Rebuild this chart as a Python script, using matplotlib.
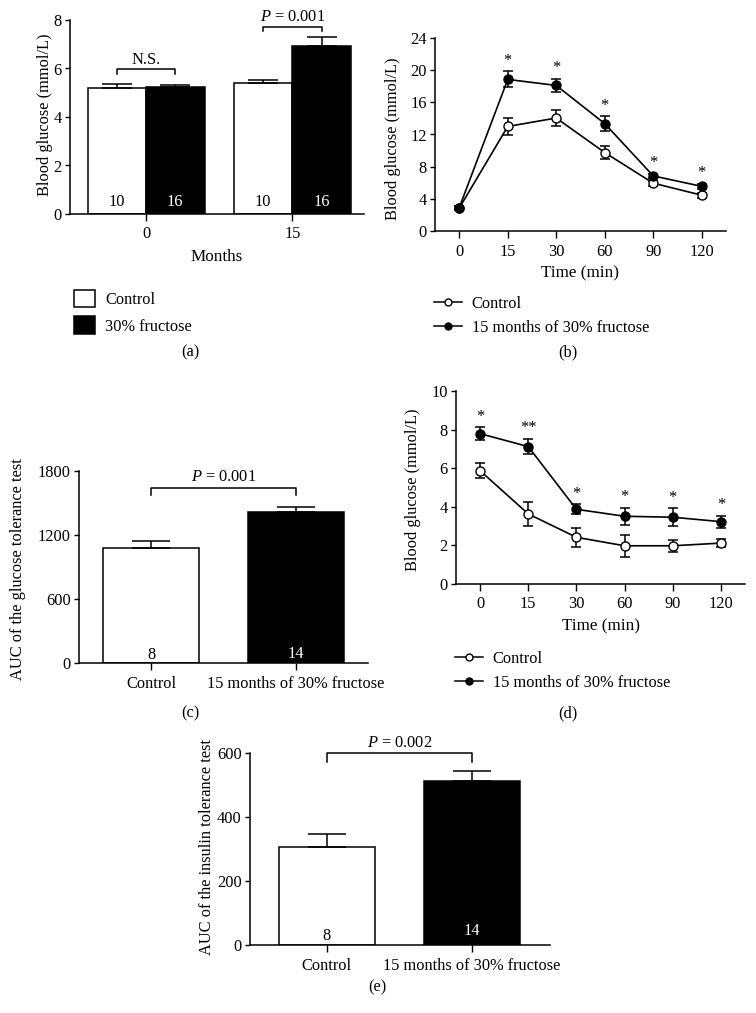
import numpy as np
import matplotlib
matplotlib.use('Agg')
import matplotlib.pyplot as plt
from matplotlib.patches import Patch
from matplotlib.lines import Line2D

FS = 11.8
plt.rcParams['font.family'] = ['Liberation Serif', 'DejaVu Serif']
plt.rcParams['mathtext.fontset'] = 'custom'
plt.rcParams['mathtext.rm'] = 'Liberation Serif'
plt.rcParams['mathtext.it'] = 'Liberation Serif:italic'
plt.rcParams['font.size'] = FS

# (a) fasting glucose
months = ['0', '15']
fast_ctrl = [5.18, 5.39]
fast_ctrl_err = [0.18, 0.14]
fast_fru = [5.23, 6.94]
fast_fru_err = [0.08, 0.34]
n_ctrl_a = ['10', '10']
n_fru_a = ['16', '16']

# (b) glucose tolerance test
times = ['0', '15', '30', '60', '90', '120']
gtt_ctrl = [2.85, 13.0, 14.05, 9.75, 5.95, 4.45]
gtt_ctrl_err = [0.2, 1.05, 1.05, 0.8, 0.3, 0.3]
gtt_fru = [2.9, 18.85, 18.1, 13.35, 6.85, 5.55]
gtt_fru_err = [0.2, 1.0, 0.8, 0.9, 0.3, 0.3]
gtt_stars = ['', '*', '*', '*', '*', '*']

# (c) AUC of GTT
groups = ['Control', '15 months of 30% fructose']
gtt_auc = [1078, 1415]
gtt_auc_err = [62, 50]
n_auc = ['8', '14']

# (d) insulin tolerance test
itt_ctrl = [5.87, 3.63, 2.42, 1.98, 1.98, 2.12]
itt_ctrl_err = [0.38, 0.6, 0.5, 0.56, 0.3, 0.22]
itt_fru = [7.79, 7.12, 3.87, 3.51, 3.46, 3.23]
itt_fru_err = [0.33, 0.38, 0.26, 0.45, 0.46, 0.31]
itt_stars = ['*', '**', '*', '*', '*', '*']

# (e) AUC of ITT
itt_auc = [305, 511]
itt_auc_err = [43, 34]

W, H = 756, 1013
fig = plt.figure(figsize=(W/100, H/100), dpi=100)


def add_ax(l, t, r, b):
    return fig.add_axes([l/W, 1-b/H, (r-l)/W, (b-t)/H])


def style(ax):
    ax.spines['top'].set_visible(False)
    ax.spines['right'].set_visible(False)
    for s in ['left', 'bottom']:
        ax.spines[s].set_linewidth(1.1)
    ax.tick_params(direction='out', length=3.5, width=1, pad=2.5, labelsize=FS)
    ax.tick_params(axis='x', length=5, pad=4)


def bracket(ax, x0, x1, ytop, ylow, text, ty):
    ax.plot([x0, x0, x1, x1], [ylow, ytop, ytop, ylow], color='k', lw=1.1, clip_on=False)
    ax.text((x0+x1)/2, ty, text, ha='center', va='center', clip_on=False, fontsize=FS)


def labels(ax, xl, yl, xc, yc, xlc=None):
    ax.set_ylabel(yl, fontsize=FS)
    ax.yaxis.set_label_coords(xc, yc)
    ax.yaxis.label.set_va('center')
    if xl:
        ax.set_xlabel(xl, fontsize=FS + 0.5)
        ax.xaxis.set_label_coords(0.5, xlc)
        ax.xaxis.label.set_va('center')


# ---- (a)
ax = add_ax(70, 20, 364, 214)
style(ax)
g = np.arange(len(months))
ax.bar(g-0.2, fast_ctrl, 0.4, color='white', edgecolor='k', lw=1.1)
ax.bar(g+0.2, fast_fru, 0.4, color='black', edgecolor='k', lw=1.1)
ax.errorbar(g-0.2, fast_ctrl, yerr=[np.zeros(2), fast_ctrl_err], fmt='none', ecolor='k',
            capsize=11, elinewidth=1.1, capthick=1.1)
ax.errorbar(g+0.2, fast_fru, yerr=[np.zeros(2), fast_fru_err], fmt='none', ecolor='k',
            capsize=11, elinewidth=1.1, capthick=1.1)
for i in range(len(months)):
    ax.annotate(n_ctrl_a[i], (g[i]-0.2, 0), xytext=(0, 3), textcoords='offset points',
                ha='center', va='bottom', color='k')
    ax.annotate(n_fru_a[i], (g[i]+0.2, 0), xytext=(0, 3), textcoords='offset points',
                ha='center', va='bottom', color='white')
ax.set_xlim(-0.52, 1.49)
ax.set_ylim(0, 8)
ax.set_yticks([0, 2, 4, 6, 8])
ax.set_xticks(g)
ax.set_xticklabels(months)
bracket(ax, -0.2, 0.2, 5.97, 5.78, 'N.S.', 6.35)
bracket(ax, 0.8, 1.2, 7.72, 7.56, '$P$ = 0.001', 8.13)
labels(ax, 'Months', 'Blood glucose (mmol/L)', -0.085, 0.51, -0.222)
fig.legend(handles=[Patch(facecolor='white', edgecolor='k', lw=1.1, label='Control'),
                    Patch(facecolor='black', edgecolor='k', lw=1.1, label='30% fructose')],
           loc='upper left', bbox_to_anchor=(74/W, 1-290/H), frameon=False, borderpad=0,
           borderaxespad=0, handlelength=1.3, handleheight=1.25, handletextpad=0.6,
           labelspacing=0.5, fontsize=FS)

# ---- (b)
ax = add_ax(435, 38, 726, 231)
style(ax)
x = np.arange(len(times))
ax.errorbar(x, gtt_ctrl, yerr=gtt_ctrl_err, fmt='-o', color='k', mfc='white', mec='k',
            ms=6.5, lw=1.2, capsize=3.5, elinewidth=1.1, capthick=1.1)
ax.errorbar(x, gtt_fru, yerr=gtt_fru_err, fmt='-o', color='k', mfc='k', mec='k',
            ms=6.5, lw=1.2, capsize=3.5, elinewidth=1.1, capthick=1.1)
for i in range(len(times)):
    if gtt_stars[i]:
        ax.annotate(gtt_stars[i], (x[i], gtt_fru[i]+gtt_fru_err[i]), xytext=(0, 2),
                    textcoords='offset points', ha='center', va='bottom', fontsize=FS)
ax.set_xlim(-0.5, 5.5)
ax.set_ylim(0, 24)
ax.set_yticks(np.arange(0, 25, 4))
ax.set_xticks(x)
ax.set_xticklabels(times)
labels(ax, 'Time (min)', 'Blood glucose (mmol/L)', -0.144, 0.48, -0.218)
leg_lines = [Line2D([0], [0], color='k', lw=1.1, marker='o', mfc='white', mec='k', ms=5, label='Control'),
             Line2D([0], [0], color='k', lw=1.1, marker='o', mfc='k', mec='k', ms=5,
                    label='15 months of 30% fructose')]
fig.legend(handles=leg_lines, loc='upper left', bbox_to_anchor=(434/W, 1-296/H), frameon=False,
           borderpad=0, borderaxespad=0, handlelength=1.7, handletextpad=0.6,
           labelspacing=0.5, fontsize=FS)

# ---- (c)
ax = add_ax(79, 471, 368, 663)
style(ax)
xb = np.arange(len(groups))
ax.bar(xb, gtt_auc, 0.667, color=['white', 'black'], edgecolor='k', lw=1.1)
ax.errorbar(xb, gtt_auc, yerr=[np.zeros(2), gtt_auc_err], fmt='none', ecolor='k',
            capsize=14, elinewidth=1.1, capthick=1.1)
ax.annotate(n_auc[0], (0, 0), xytext=(0, 0), textcoords='offset points', ha='center', va='bottom', color='k')
ax.annotate(n_auc[1], (1, 0), xytext=(0, 1), textcoords='offset points', ha='center', va='bottom', color='white')
ax.set_xlim(-0.5, 1.5)
ax.set_ylim(0, 1800)
ax.set_yticks([0, 600, 1200, 1800])
ax.set_xticks(xb)
ax.set_xticklabels(groups)
bracket(ax, 0, 1, 1640, 1578, '$P$ = 0.001', 1744)
labels(ax, None, 'AUC of the glucose tolerance test', -0.211, 0.49)

# ---- (d)
ax = add_ax(456, 391, 745, 584)
style(ax)
ax.errorbar(x, itt_ctrl, yerr=itt_ctrl_err, fmt='-o', color='k', mfc='white', mec='k',
            ms=6.5, lw=1.2, capsize=3.5, elinewidth=1.1, capthick=1.1)
ax.errorbar(x, itt_fru, yerr=itt_fru_err, fmt='-o', color='k', mfc='k', mec='k',
            ms=6.5, lw=1.2, capsize=3.5, elinewidth=1.1, capthick=1.1)
for i in range(len(times)):
    if itt_stars[i]:
        ax.annotate(itt_stars[i], (x[i], itt_fru[i]+itt_fru_err[i]), xytext=(0, 2),
                    textcoords='offset points', ha='center', va='bottom', fontsize=FS)
ax.set_xlim(-0.5, 5.5)
ax.set_ylim(0, 10)
ax.set_yticks(np.arange(0, 11, 2))
ax.set_xticks(x)
ax.set_xticklabels(times)
labels(ax, 'Time (min)', 'Blood glucose (mmol/L)', -0.149, 0.49, -0.222)
fig.legend(handles=leg_lines, loc='upper left', bbox_to_anchor=(455/W, 1-651/H), frameon=False,
           borderpad=0, borderaxespad=0, handlelength=1.7, handletextpad=0.6,
           labelspacing=0.5, fontsize=FS)

# ---- (e)
ax = add_ax(250, 753, 550, 945)
style(ax)
ax.bar(xb, itt_auc, 0.66, color=['white', 'black'], edgecolor='k', lw=1.1)
ax.errorbar(xb, itt_auc, yerr=[np.zeros(2), itt_auc_err], fmt='none', ecolor='k',
            capsize=14, elinewidth=1.1, capthick=1.1)
ax.annotate(n_auc[0], (0, 0), xytext=(0, 1), textcoords='offset points', ha='center', va='bottom', color='k')
ax.annotate(n_auc[1], (1, 0), xytext=(0, 4), textcoords='offset points', ha='center', va='bottom', color='white')
ax.set_xlim(-0.53, 1.54)
ax.set_ylim(0, 600)
ax.set_yticks([0, 200, 400, 600])
ax.set_xticks(xb)
ax.set_xticklabels(groups)
bracket(ax, 0, 1, 600, 572, '$P$ = 0.002', 631)
labels(ax, None, 'AUC of the insulin tolerance test', -0.143, 0.51)

# panel letters
for lab, px, py in [('(a)', 190, 352), ('(b)', 568, 352), ('(c)', 190, 713),
                    ('(d)', 568, 713), ('(e)', 377, 987)]:
    fig.text(px/W, 1-py/H, lab, ha='center', va='center', fontsize=FS)

fig.savefig('out.png', dpi=100)
